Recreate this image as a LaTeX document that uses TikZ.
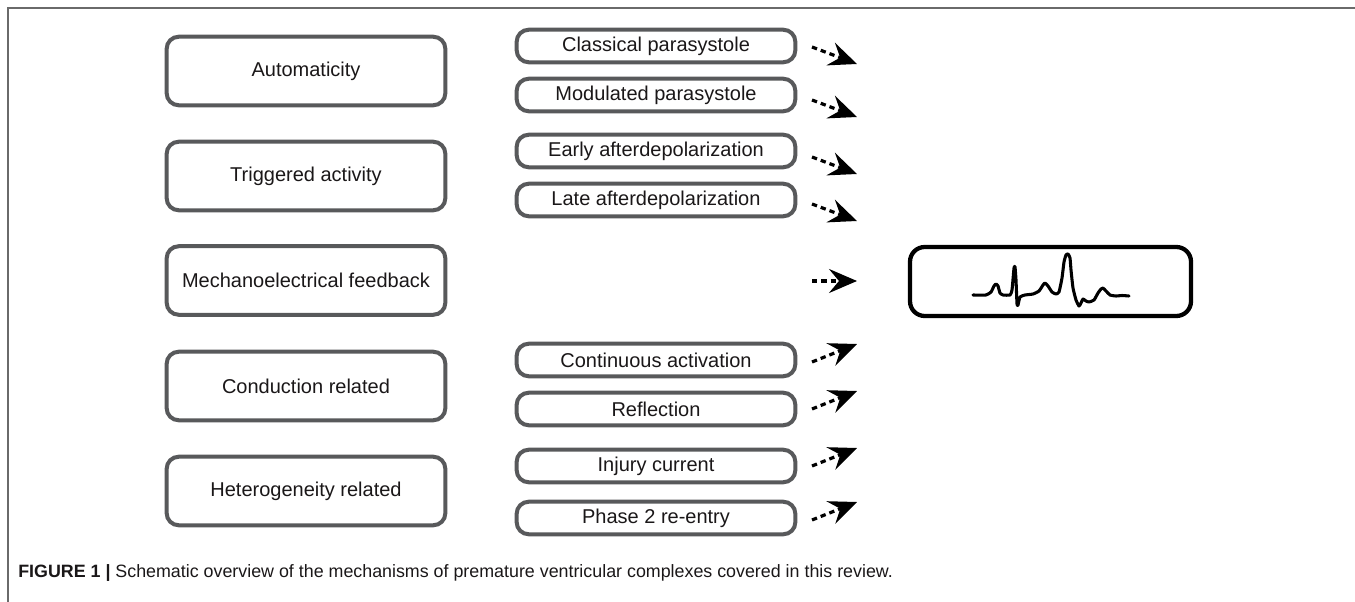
\documentclass[tikz,border=0pt]{standalone}
\usepackage{fontspec}
\setmainfont{Liberation Sans}
\usetikzlibrary{arrows.meta}
\definecolor{boxgray}{HTML}{58595B}
\definecolor{txt}{HTML}{1A1718}
\definecolor{framegray}{HTML}{6A6A6A}
\begin{document}
\begin{tikzpicture}[x=0.75pt,y=-0.75pt,
  bigbox/.style={draw=boxgray, line width=3pt, rounded corners=9pt, minimum width=209pt, minimum height=51.4pt, inner sep=0pt, font=\fontsize{15}{17}\selectfont, text=txt},
  smallbox/.style={bigbox, minimum height=24.4pt},
  ecgbox/.style={draw=black, line width=3.2pt, rounded corners=11pt, minimum width=210.75pt, minimum height=51.75pt, inner sep=0pt},
  arr/.style={draw=black, line width=2.4pt, dash pattern=on 4pt off 3pt, -{Stealth[length=21pt,width=18pt,inset=7.5pt]}},
  framestyle/.style={draw=framegray, line width=1.1pt}
]
\useasboundingbox (0,0) rectangle (1355,602);
% frame
\coordinate (fa) at (1355,8);
\coordinate (fb) at (8,8);
\coordinate (fc) at (8,602);
\draw[framestyle] (fa) -- (fb) -- (fc);
% left boxes
\node[bigbox] (auto) at (306,71) {Automaticity};
\node[bigbox] (trig) at (306,176) {Triggered activity};
\node[bigbox] (mech) at (306,280.5) {Mechanoelectrical feedback};
\node[bigbox] (cond) at (306,386) {Conduction related};
\node[bigbox] (hete) at (306,491) {Heterogeneity related};
% middle boxes
\node[smallbox] (clas) at (656,46) {Classical parasystole};
\node[smallbox] (modu) at (656,95) {Modulated parasystole};
\node[smallbox] (earl) at (656,151) {Early afterdepolarization};
\node[smallbox] (late) at (656,200) {Late afterdepolarization};
\node[smallbox] (cont) at (656,360) {Continuous activation};
\node[smallbox] (refl) at (656,409) {Reflection};
\node[smallbox] (inju) at (656,466) {Injury current};
\node[smallbox] (phas) at (656,518) {Phase 2 re-entry};
% ECG box
\node[ecgbox] (ecg) at (1050.5,281.5) {};
\draw[line width=2.3pt, line join=round, line cap=round] plot[smooth, tension=0.3] coordinates {
 (973,295) (986,295) (991,292) (994,286) (996,284) (998,286) (1000,293) (1003,295) (1010,295)
 (1012,290) (1014,268) (1015,267) (1016,280) (1017,304) (1018,305) (1020,297) (1025,295)
 (1033,294) (1039,291) (1043,285) (1045,283) (1048,286) (1052,292) (1056,294) (1059,292)
 (1062,278) (1064,262) (1066,255) (1068,254) (1070,258) (1071,270) (1073,288) (1076,300)
 (1079,306) (1081,303) (1083,299) (1086,301) (1089,302) (1094,300) (1098,293) (1101,289) (1103,288)
 (1106,291) (1110,295) (1116,296) (1122,295.5) (1129,296)};
% arrows
\coordinate (t1) at (812,47);  \coordinate (h1) at (857,64);
\coordinate (t2) at (812,100); \coordinate (h2) at (857,117);
\coordinate (t3) at (812,157); \coordinate (h3) at (857,174);
\coordinate (t4) at (812,204); \coordinate (h4) at (857,221);
\coordinate (t5) at (812,281); \coordinate (h5) at (857,281);
\coordinate (t6) at (812,362); \coordinate (h6) at (857,344);
\coordinate (t7) at (812,409); \coordinate (h7) at (857,391);
\coordinate (t8) at (812,466); \coordinate (h8) at (857,448);
\coordinate (t9) at (812,520); \coordinate (h9) at (857,502);
\foreach \i in {1,...,9} { \draw[arr] (t\i) -- (h\i); }
% caption
\node[anchor=base west, inner sep=0pt, text=txt] (cap) at (18,577) {\resizebox{656pt}{\height}{\fontsize{13.4}{15}\selectfont\textbf{FIGURE 1 |} Schematic overview of the mechanisms of premature ventricular complexes covered in this review.}};
\end{tikzpicture}
\end{document}
